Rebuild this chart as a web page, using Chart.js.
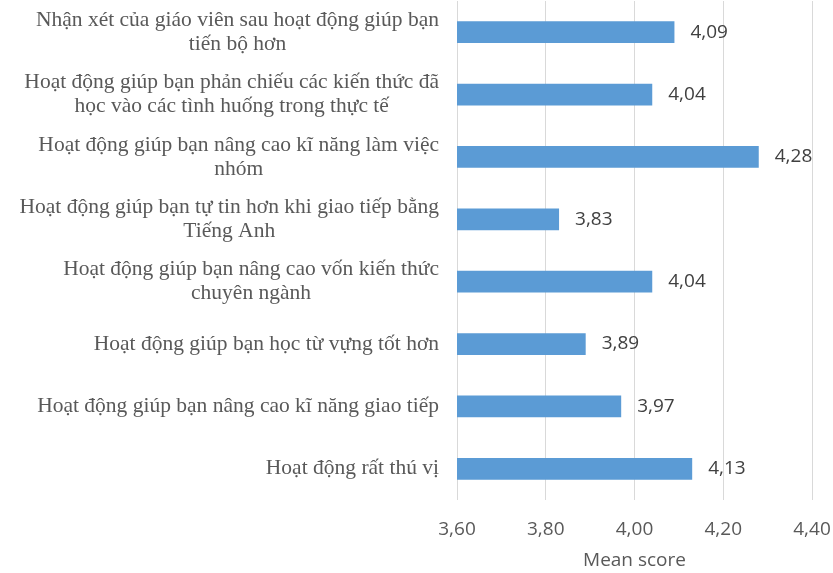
<!DOCTYPE html>
<html>
<head>
<meta charset="utf-8">
<script src="https://cdn.jsdelivr.net/npm/chart.js@4"></script>
<style>
  html, body { margin: 0; padding: 0; background: #ffffff; }
  #wrap { width: 833px; height: 573px; }
</style>
</head>
<body>
<div id="wrap"><canvas id="c" width="833" height="573"></canvas></div>
<script>
const categories = [
  ["Nhận xét của giáo viên sau hoạt động giúp bạn", "tiến bộ hơn"],
  ["Hoạt động giúp bạn phản chiếu các kiến thức đã", "học vào các tình huống trong thực tế"],
  ["Hoạt động giúp bạn nâng cao kĩ năng làm việc", "nhóm"],
  ["Hoạt động giúp bạn tự tin hơn khi giao tiếp bằng", "Tiếng Anh"],
  ["Hoạt động giúp bạn nâng cao vốn kiến thức", "chuyên ngành"],
  ["Hoạt động giúp bạn học từ vựng tốt hơn"],
  ["Hoạt động giúp bạn nâng cao kĩ năng giao tiếp"],
  ["Hoạt động rất thú vị"]
];
const meanScores = [4.09, 4.04, 4.28, 3.83, 4.04, 3.89, 3.97, 4.13];
const axisMin = 3.6;
const axisMax = 4.4;
const axisStep = 0.2;
const axisTitle = "Mean score";

const fmt = v => Number(v).toFixed(2).replace('.', ',');

const categoryLabelPlugin = {
  id: 'categoryLabels',
  afterDraw(chart) {
    const ctx = chart.ctx;
    const yScale = chart.scales.y;
    ctx.save();
    ctx.font = "21.5px 'Liberation Serif', 'Times New Roman', serif";
    ctx.fillStyle = '#595959';
    ctx.textAlign = 'center';
    ctx.textBaseline = 'middle';
    const rightX = 439;
    const lh = 24;
    categories.forEach((lines, i) => {
      const y = yScale.getPixelForValue(i);
      let maxW = 0;
      lines.forEach(l => { maxW = Math.max(maxW, ctx.measureText(l).width); });
      const cx = rightX - maxW / 2;
      lines.forEach((l, j) => {
        ctx.fillText(l, cx, y + (j - (lines.length - 1) / 2) * lh);
      });
    });
    ctx.restore();
  }
};

const valueLabelPlugin = {
  id: 'valueLabels',
  afterDatasetsDraw(chart) {
    const ctx = chart.ctx;
    const meta = chart.getDatasetMeta(0);
    ctx.save();
    ctx.font = "19px 'Open Sans', sans-serif";
    ctx.fillStyle = '#404040';
    ctx.textAlign = 'left';
    ctx.textBaseline = 'middle';
    meta.data.forEach((bar, i) => {
      ctx.fillText(fmt(meanScores[i]), bar.x + 16, bar.y);
    });
    ctx.restore();
  }
};

new Chart(document.getElementById('c'), {
  type: 'bar',
  data: {
    labels: categories.map(l => l.join(' ')),
    datasets: [{
      data: meanScores,
      backgroundColor: '#5B9BD5',
      borderWidth: 0,
      barPercentage: 0.35,
      categoryPercentage: 1.0
    }]
  },
  options: {
    indexAxis: 'y',
    responsive: false,
    animation: false,
    layout: { padding: { left: 0, right: 21, top: 1, bottom: 0 } },
    plugins: { legend: { display: false }, tooltip: { enabled: false } },
    scales: {
      x: {
        min: axisMin,
        max: axisMax,
        ticks: {
          stepSize: axisStep,
          callback: v => fmt(v),
          color: '#595959',
          font: { family: "'Open Sans', sans-serif", size: 19 },
          padding: 18
        },
        grid: { color: '#d9d9d9', lineWidth: 1, drawTicks: false },
        border: { display: false },
        title: {
          display: true,
          text: axisTitle,
          color: '#595959',
          font: { family: "'Open Sans', sans-serif", size: 19 },
          padding: { top: 0, bottom: 1 }
        },
        afterFit(scale) {
          scale.height = 73;
          scale.paddingLeft = 0;
          scale.paddingRight = 0;
        }
      },
      y: {
        ticks: { display: false },
        grid: { display: false },
        border: { display: false },
        afterFit(scale) { scale.width = 457; }
      }
    }
  },
  plugins: [categoryLabelPlugin, valueLabelPlugin]
});
</script>
</body>
</html>
